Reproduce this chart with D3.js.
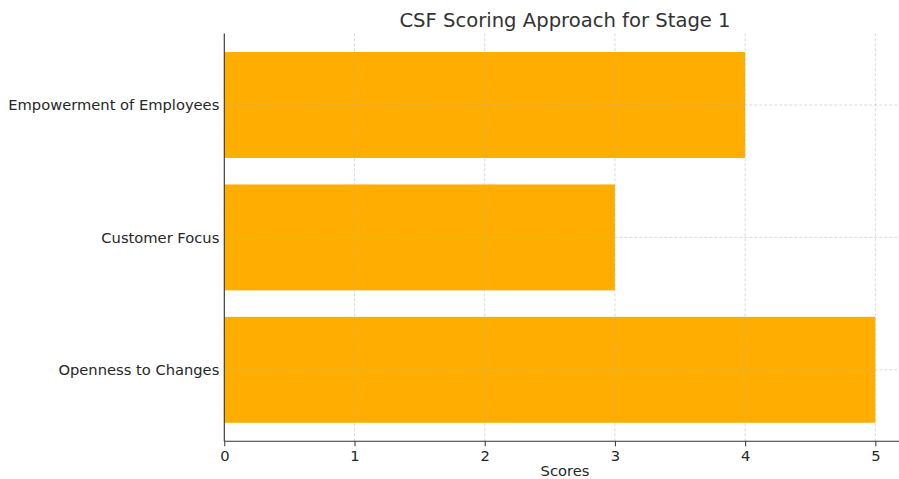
<!DOCTYPE html>
<html>
<head>
<meta charset="utf-8">
<script src="https://cdn.jsdelivr.net/npm/d3@7"></script>
<style>
  body { margin: 0; background: #fff; }
  svg { display: block; font-family: "DejaVu Sans", sans-serif; }
</style>
</head>
<body>
<div id="chart"></div>
<script>
// data, bottom to top
const categories = ["Openness to Changes", "Customer Focus", "Empowerment of Employees"];
const scores = [5, 3, 4];
const xTicks = [0, 1, 2, 3, 4, 5];

const width = 899, height = 479;
const svg = d3.select("#chart").append("svg")
  .attr("width", width).attr("height", height);

const x = d3.scaleLinear().domain([0, 5.25]).range([224.3, 907.9]);
const y = d3.scaleLinear().domain([-0.54, 2.54]).range([441.3, 33.5]);
const barH = 0.8;

// bars
svg.append("g").selectAll("rect")
  .data(scores)
  .enter().append("rect")
  .attr("x", x(0))
  .attr("y", (d, i) => y(i + barH / 2))
  .attr("width", d => x(d) - x(0))
  .attr("height", (d, i) => y(i - barH / 2) - y(i + barH / 2))
  .attr("fill", "#FFAE00");

// grid (drawn on top, like the original)
const grid = svg.append("g").attr("stroke", "#b0b0b0").attr("stroke-opacity", 0.6)
  .attr("stroke-width", 0.8).attr("stroke-dasharray", "3,2");
grid.selectAll(".gx").data(xTicks).enter().append("line")
  .attr("x1", d => x(d)).attr("x2", d => x(d))
  .attr("y1", y.range()[0]).attr("y2", y.range()[1]);
grid.selectAll(".gy").data(categories).enter().append("line")
  .attr("x1", x(0)).attr("x2", width)
  .attr("y1", (d, i) => y(i)).attr("y2", (d, i) => y(i));

// axes
const xAxis = svg.append("g")
  .attr("transform", `translate(0,${y.range()[0]})`)
  .call(d3.axisBottom(x).tickValues(xTicks).tickFormat(d3.format("d")).tickSize(5).tickPadding(4));

const yAxis = svg.append("g")
  .attr("transform", `translate(${x(0)},0)`)
  .call(d3.axisLeft(y).tickValues(d3.range(categories.length))
    .tickFormat(i => categories[i]).tickSize(0).tickPadding(5));

[xAxis, yAxis].forEach(a => {
  a.select(".domain").attr("stroke", "#333").attr("stroke-width", 1.1);
  a.selectAll(".tick line").attr("stroke", "#333");
  a.selectAll(".tick text").attr("fill", "#262626").attr("font-size", "14.7px")
    .attr("font-family", "DejaVu Sans");
});
xAxis.select(".domain").attr("d", `M${x(0)},0H${width}`);
yAxis.select(".domain").attr("d", `M0,${y.range()[0]}V${y.range()[1]}`);

// title and label
svg.append("text")
  .attr("x", 565).attr("y", 27)
  .attr("text-anchor", "middle")
  .attr("font-size", "19.6px").attr("fill", "#333")
  .text("CSF Scoring Approach for Stage 1");

svg.append("text")
  .attr("x", 565).attr("y", 476)
  .attr("text-anchor", "middle")
  .attr("font-size", "14.7px").attr("fill", "#262626")
  .text("Scores");
</script>
</body>
</html>
